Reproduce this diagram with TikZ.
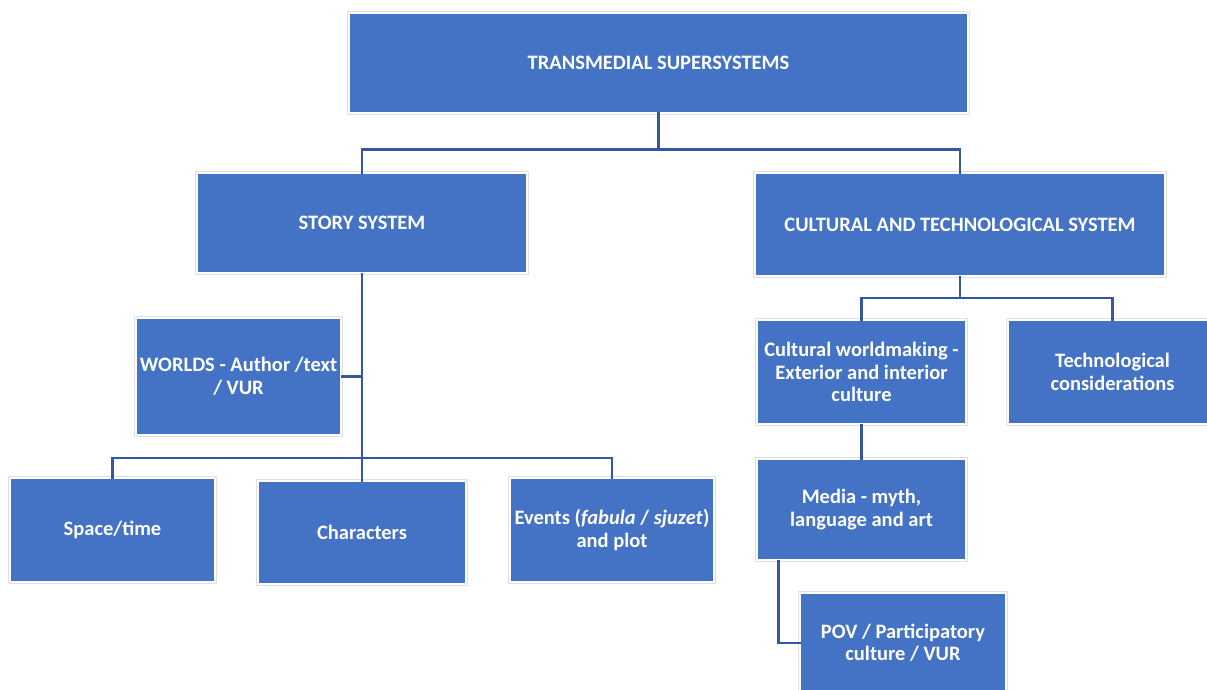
\documentclass[tikz,border=0pt]{standalone}
\usepackage{fontspec}
\setmainfont{Carlito}
\usetikzlibrary{calc}
\definecolor{boxblue}{RGB}{68,114,196}
\definecolor{linkblue}{RGB}{52,88,160}
\tikzset{
  sysbox/.style={rectangle, fill=boxblue, draw=white, line width=1.6pt,
    preaction={draw=black!12, line width=3.2pt},
    text=white, align=center, inner sep=0pt,
    font=\bfseries\fontsize{20.5}{22.5}\selectfont},
  link/.style={draw=linkblue, line width=2.6pt, line cap=rect}
}
\begin{document}
\begin{tikzpicture}[x=1pt, y=-1pt]
\useasboundingbox[fill=white] (0,0) rectangle (1207,690);
\clip (0,0) rectangle (1207,690);

% top level
\node[sysbox, minimum width=619pt, minimum height=100pt] (top) at (658.5,63) {TRANSMEDIAL SUPERSYSTEMS};

% second level
\node[sysbox, minimum width=330pt, minimum height=100pt] (story) at (362,223) {STORY SYSTEM};
\node[sysbox, minimum width=410pt, minimum height=103pt] (cult) at (960,224.5) {CULTURAL AND TECHNOLOGICAL SYSTEM};

% story branch
\node[sysbox, minimum width=205pt, minimum height=117pt] (worlds) at (238.5,376.5) {WORLDS - Author /text\\/ VUR};
\node[sysbox, minimum width=205pt, minimum height=104pt] (space) at (112.5,530) {Space/time};
\node[sysbox, minimum width=208pt, minimum height=103pt] (chars) at (362,532.5) {Characters};
\node[sysbox, minimum width=204pt, minimum height=104pt] (events) at (612,530) {Events (\textit{fabula} / \textit{sjuzet})\\and plot};

% cultural branch
\node[sysbox, minimum width=209pt, minimum height=104pt] (cw) at (861.5,372) {Cultural worldmaking -\\Exterior and interior\\culture};
\node[sysbox, minimum width=209pt, minimum height=104pt] (tech) at (1112.5,372) {Technological\\considerations};
\node[sysbox, minimum width=209pt, minimum height=101pt] (media) at (861.5,509.5) {Media - myth,\\language and art};
\node[sysbox, minimum width=206pt, minimum height=100pt] (pov) at (903,643) {POV / Participatory\\culture / VUR};

% connectors
\coordinate (topjoin) at ($(top.south)+(0,36)$);
\draw[link] (top.south) -- (topjoin) -| (story.north);
\draw[link] (topjoin) -| (cult.north);

\coordinate (storyjoin) at ($(story.south)+(0,184)$);
\draw[link] (story.south) -- (storyjoin) -- (chars.north);
\draw[link] (storyjoin) -| (space.north);
\draw[link] (storyjoin) -| (events.north);
\draw[link] (worlds.east) -- (worlds.east -| story.south);

\coordinate (cultjoin) at ($(cult.south)+(0,21)$);
\draw[link] (cult.south) -- (cultjoin) -| (cw.north);
\draw[link] (cultjoin) -| (tech.north);
\draw[link] (cw.south) -- (media.north);

\coordinate (mediadrop) at ($(media.south west)+(22,0)$);
\draw[link] (mediadrop) |- (pov.west);
\end{tikzpicture}
\end{document}
